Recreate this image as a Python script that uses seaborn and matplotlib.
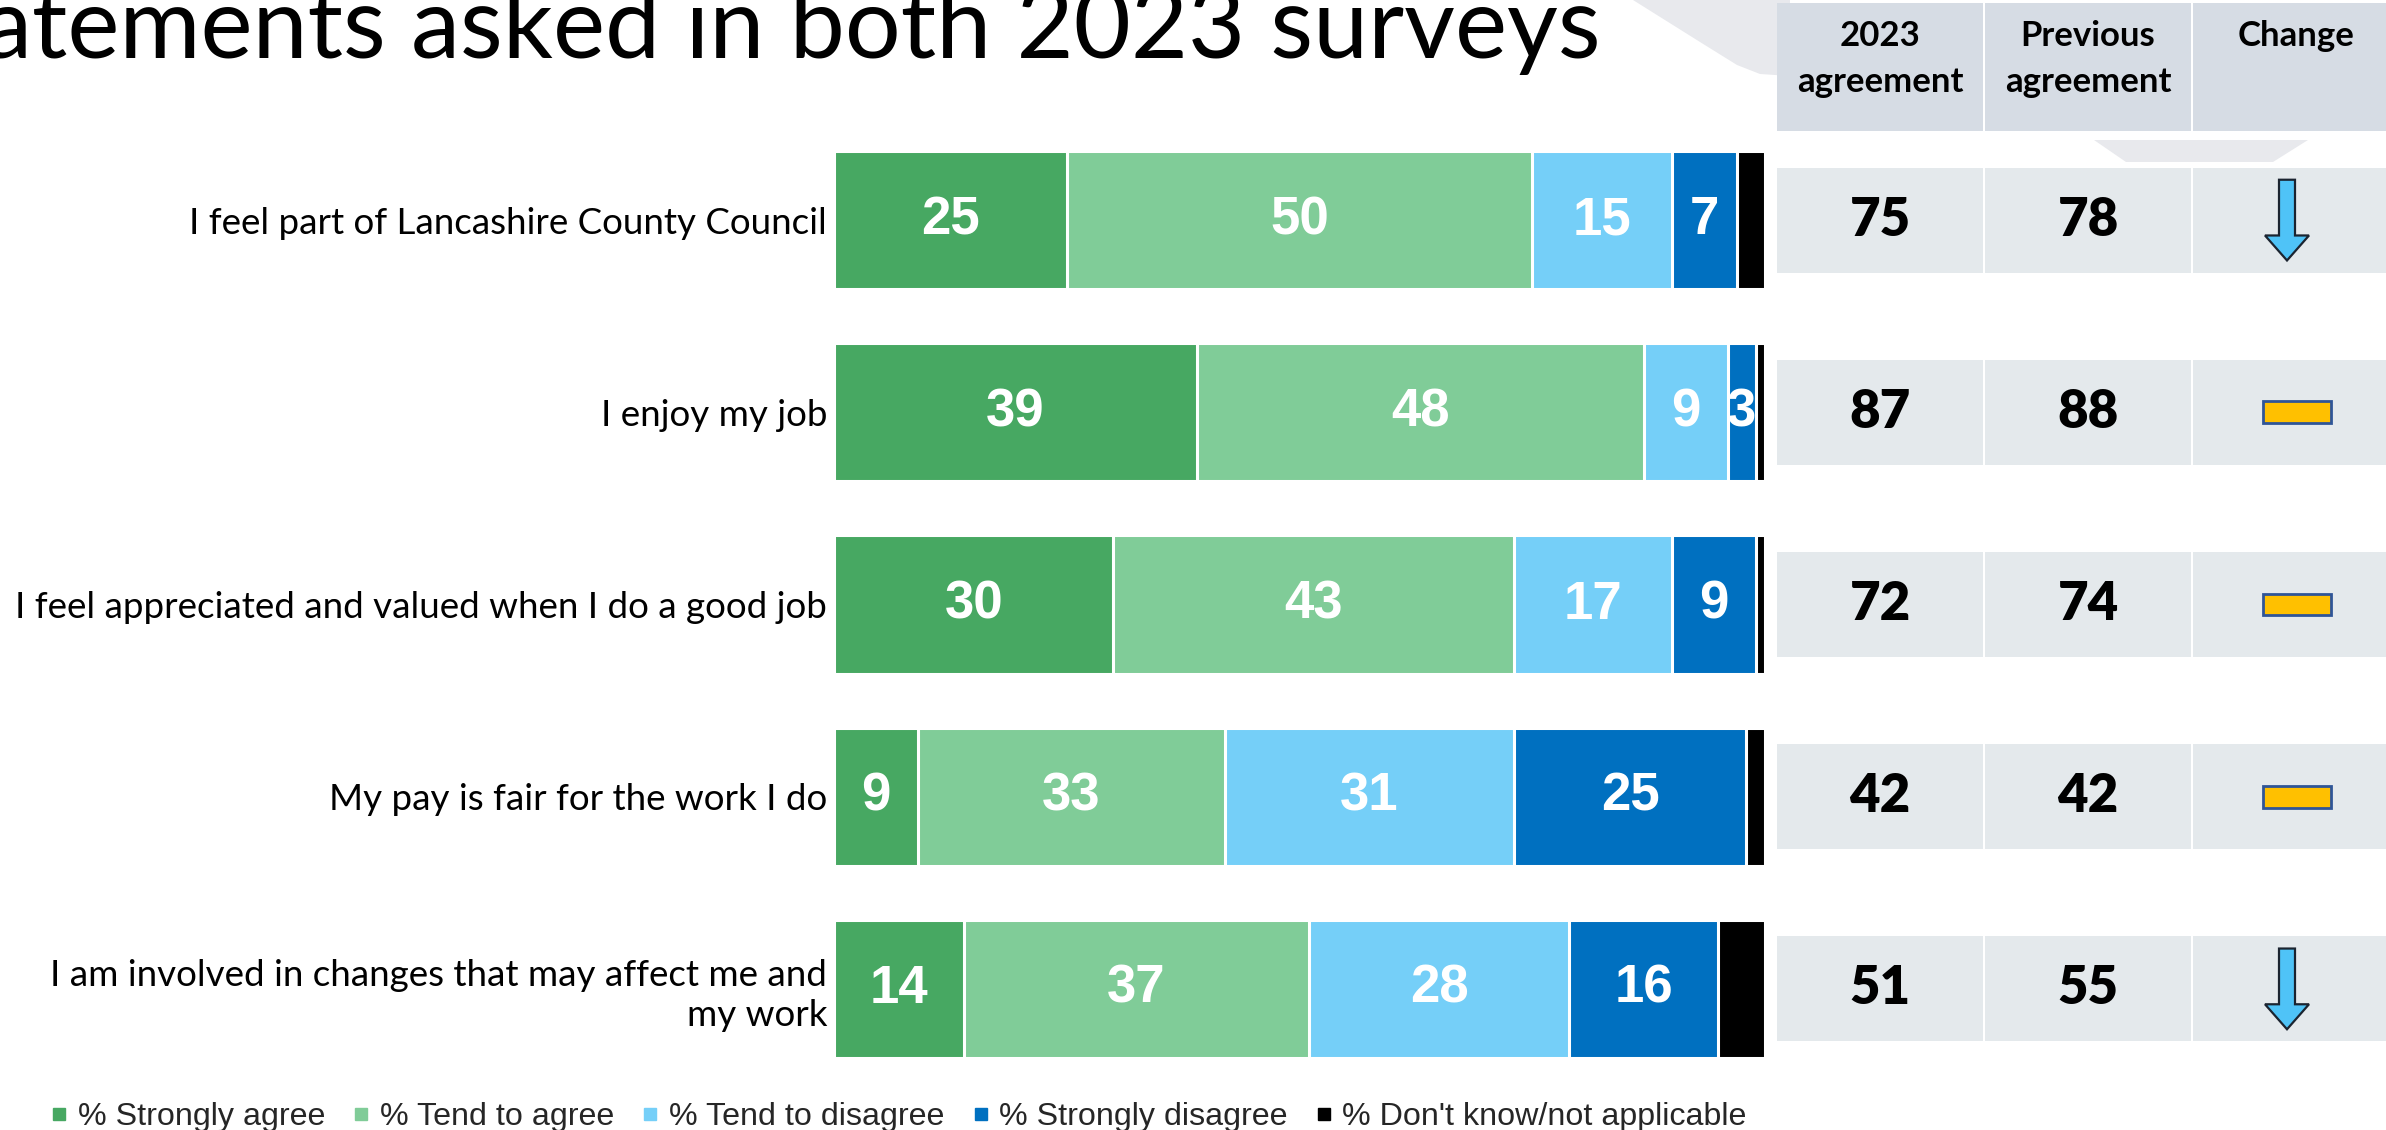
import matplotlib
matplotlib.use("Agg")
import matplotlib.pyplot as plt
import matplotlib.transforms as mtransforms
from matplotlib.patches import Rectangle, Polygon, FancyArrow
from matplotlib.lines import Line2D
import numpy as np
import pandas as pd
import seaborn as sns

# ---------------------------------------------------------------- data
statements = [
    "I feel part of Lancashire County Council",
    "I enjoy my job",
    "I feel appreciated and valued when I do a good job",
    "My pay is fair for the work I do",
    "I am involved in changes that may affect me and\nmy work",
]
strongly_agree = [25, 39, 30, 9, 14]
tend_to_agree = [50, 48, 43, 33, 37]
tend_to_disagree = [15, 9, 17, 31, 28]
strongly_disagree = [7, 3, 9, 25, 16]
dont_know = [3, 1, 1, 2, 5]

series_names = ["% Strongly agree", "% Tend to agree", "% Tend to disagree",
                "% Strongly disagree", "% Don't know/not applicable"]
series_colors = ["#47A862", "#80CC98", "#75CFF8", "#0070C0", "#000000"]

agreement_2023 = [75, 87, 72, 42, 51]
agreement_previous = [78, 88, 74, 42, 55]
change = ["down", "same", "same", "same", "down"]

table_headers = ["2023\nagreement", "Previous\nagreement", "Change"]
title = "Statements asked in both 2023 surveys"

# ---------------------------------------------------------------- figure
sns.set_theme(style="white")
plt.rcParams["font.family"] = ["Lato", "DejaVu Sans"]

W, H = 2386, 1130
fig = plt.figure(figsize=(W / 100, H / 100), dpi=100)
fig.patch.set_facecolor("white")

# full-figure canvas in pixel units for the slide furniture
bg = fig.add_axes([0, 0, 1, 1], zorder=0)
bg.set_xlim(0, W)
bg.set_ylim(H, 0)
bg.axis("off")

# light grey background chevron pieces
bg.add_patch(Polygon([(1633, 0), (1700, 42), (1737, 65), (1760, 74), (1790, 76), (1790, 0)],
                     closed=True, facecolor="#E8E9ED", edgecolor="none"))
bg.add_patch(Polygon([(2094, 140), (2308, 140), (2273, 162), (2126, 162)],
                     closed=True, facecolor="#E8E9ED", edgecolor="none"))

# title (runs off the left/top edge of the slide)
bg.text(1601, 58, title, ha="right", va="baseline", fontsize=71,
        fontweight="normal", family=["Lato", "DejaVu Sans"], color="black")

# ---------------------------------------------------------------- stacked bars
ax = fig.add_axes([834 / W, 1 - 1085 / H, 931 / W, 961 / H], zorder=2)
ax.patch.set_alpha(0)

df = pd.DataFrame({"statement": statements})
for name, vals in zip(series_names,
                      [strongly_agree, tend_to_agree, tend_to_disagree,
                       strongly_disagree, dont_know]):
    df[name] = vals
cum = df[series_names].cumsum(axis=1)

for name, color in reversed(list(zip(series_names, series_colors))):
    sns.barplot(x=cum[name], y=df["statement"], orient="h", order=statements,
                color=color, saturation=1, width=0.72, edgecolor="white",
                linewidth=2.2, ax=ax)

for name in series_names[:-1]:
    for i, (v, c) in enumerate(zip(df[name], cum[name])):
        ax.text(c - v / 2, i, f"{v}", ha="center", va="center",
                color="white", fontsize=38, fontweight="bold",
                family=["Liberation Sans", "DejaVu Sans"])

ax.set_xlim(0, 100)
ax.set_ylim(4.5, -0.5)
ax.set_xlabel("")
ax.set_ylabel("")
ax.set_xticks([])
sns.despine(ax=ax, left=True, bottom=True)
ax.tick_params(axis="y", length=0, pad=5, labelsize=26.5, labelcolor="black")
for t in ax.get_yticklabels():
    t.set_family(["Lato", "DejaVu Sans"])
    t.set_linespacing(1.25)

# ---------------------------------------------------------------- legend
handles = [Line2D([], [], marker="s", linestyle="", markersize=8.5,
                  markerfacecolor=c, markeredgecolor=c) for c in series_colors]
fig.legend(handles, series_names, loc="center left",
           bbox_to_anchor=(52 / W, 1 - 1117 / H), ncol=5, frameon=False,
           handlelength=0.45, handletextpad=0.35, columnspacing=0.9,
           borderaxespad=0, borderpad=0,
           prop={"family": ["Liberation Sans", "DejaVu Sans"], "size": 23.2})

# ---------------------------------------------------------------- comparison table
col_left = [1777, 1985, 2193]
col_w = 206
row_tf = mtransforms.blended_transform_factory(bg.transData, ax.transData)

for left, head in zip(col_left, table_headers):
    bg.add_patch(Rectangle((left, 3), col_w, 128, facecolor="#D6DCE4",
                           edgecolor="none", zorder=1))
    bg.text(left + col_w / 2, 20, head, ha="center", va="top", fontsize=25,
            fontweight="bold", linespacing=1.55, color="black", zorder=3)

cell_h = 0.546
for i in range(len(statements)):
    for left in col_left:
        bg.add_patch(Rectangle((left, i - cell_h / 2), col_w, cell_h,
                               transform=row_tf, facecolor="#E4E9EC",
                               edgecolor="none", zorder=1))
    for left, val in zip(col_left[:2], [agreement_2023[i], agreement_previous[i]]):
        bg.text(left + col_w / 2, i, f"{val}", transform=row_tf, ha="center",
                va="center", fontsize=38, fontweight="heavy", color="black",
                zorder=3)
    cx = col_left[2] + 94
    if change[i] == "down":
        bg.add_patch(FancyArrow(cx, i - 0.21, 0, 0.42, width=16,
                                head_width=44, head_length=0.13,
                                length_includes_head=True, transform=row_tf,
                                facecolor="#4FC3F7", edgecolor="#1B2430",
                                linewidth=1.6, zorder=3))
    else:
        bg.add_patch(Rectangle((cx - 24, i - 0.057), 68, 0.114,
                               transform=row_tf, facecolor="#FFC000",
                               edgecolor="#2F5597", linewidth=2, zorder=3))

fig.savefig("out.png", dpi=100)
